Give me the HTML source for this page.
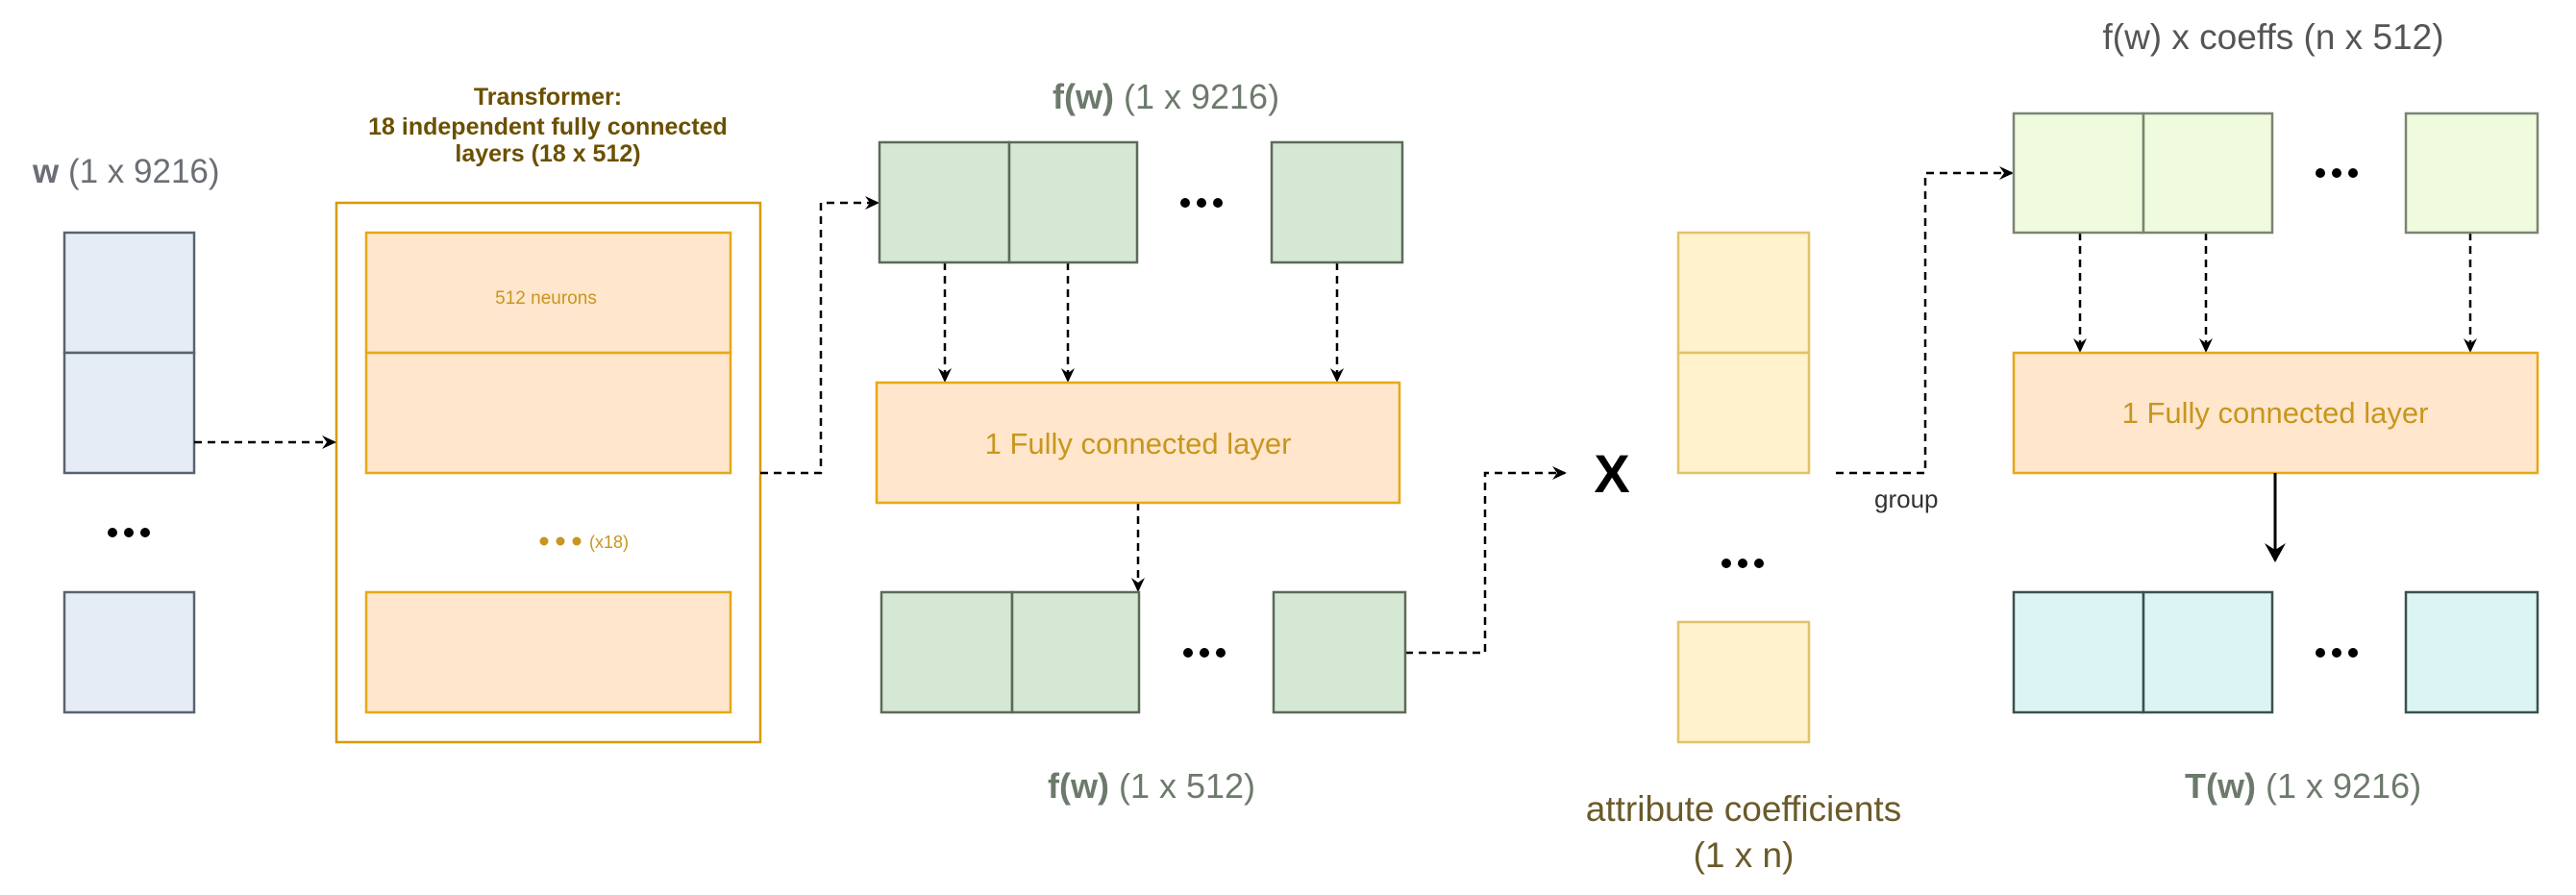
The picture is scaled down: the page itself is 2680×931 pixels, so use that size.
<!DOCTYPE html>
<html><head><meta charset="utf-8"><style>html,body{margin:0;padding:0;background:#fff;}svg{display:block;}</style></head>
<body>
<svg width="2680" height="931" viewBox="0 0 2680 931" xmlns="http://www.w3.org/2000/svg" font-family="Liberation Sans, sans-serif">
<defs>
<marker id="a" markerWidth="16" markerHeight="16" refX="13" refY="8" orient="auto" markerUnits="userSpaceOnUse"><path d="M0,1 L15,8 L0,15 L5,8 Z" fill="#000"/></marker>
<marker id="b" markerWidth="22" markerHeight="22" refX="18" refY="11" orient="auto" markerUnits="userSpaceOnUse"><path d="M0,0 L20,11 L0,22 L7,11 Z" fill="#000"/></marker>
</defs>
<rect width="2680" height="931" fill="#fff"/>

<!-- w column -->
<text x="34" y="190" font-size="35" fill="#6a6f75"><tspan font-weight="bold">w</tspan> (1 x 9216)</text>
<g fill="#e5ecf5" stroke="#5a6370" stroke-width="2.5">
<rect x="67" y="242" width="135" height="125"/><rect x="67" y="367" width="135" height="125"/><rect x="67" y="616" width="135" height="125"/>
</g>
<g fill="#000"><circle cx="117" cy="554" r="5"/><circle cx="134" cy="554" r="5"/><circle cx="151" cy="554" r="5"/></g>

<!-- Transformer -->
<g font-size="25" font-weight="bold" fill="#6b5000" text-anchor="middle">
<text x="570" y="109">Transformer:</text>
<text x="570" y="140">18 independent fully connected</text>
<text x="570" y="168">layers (18 x 512)</text>
</g>
<rect x="350" y="211" width="441" height="561" fill="#fff" stroke="#d79b00" stroke-width="2.5"/>
<g fill="#ffe6cc" stroke="#e6a817" stroke-width="2.5">
<rect x="381" y="242" width="379" height="125"/><rect x="381" y="367" width="379" height="125"/><rect x="381" y="616" width="379" height="125"/>
</g>
<text x="568" y="316" font-size="19" fill="#c8961e" text-anchor="middle">512 neurons</text>
<g fill="#c8961e"><circle cx="566" cy="563" r="4.5"/><circle cx="583" cy="563" r="4.5"/><circle cx="600" cy="563" r="4.5"/></g>
<text x="613" y="570" font-size="18" fill="#c8961e">(x18)</text>

<g fill="none" stroke="#000" stroke-width="2.5" stroke-dasharray="8,6">
<path d="M202,460 L348,460" marker-end="url(#a)"/>
<path d="M791,492 L854,492 L854,211 L913,211" marker-end="url(#a)"/>
<path d="M983,273 L983,396" marker-end="url(#a)"/>
<path d="M1111,273 L1111,396" marker-end="url(#a)"/>
<path d="M1391,273 L1391,396" marker-end="url(#a)"/>
<path d="M1184,523 L1184,614" marker-end="url(#a)"/>
<path d="M1462,679 L1545,679 L1545,492 L1628,492" marker-end="url(#a)"/>
<path d="M1910,492 L2003,492 L2003,180 L2093,180" marker-end="url(#a)"/>
<path d="M2164,242 L2164,365" marker-end="url(#a)"/>
<path d="M2295,242 L2295,365" marker-end="url(#a)"/>
<path d="M2570,242 L2570,365" marker-end="url(#a)"/>
</g>

<!-- f(w) top -->
<text x="1095" y="113" font-size="36" fill="#6c7a6c"><tspan font-weight="bold">f(w)</tspan> (1 x 9216)</text>
<g fill="#d5e8d4" stroke="#5c6b58" stroke-width="2.5">
<rect x="915" y="148" width="135" height="125"/><rect x="1050" y="148" width="133" height="125"/><rect x="1323" y="148" width="136" height="125"/>
<rect x="917" y="616" width="136" height="125"/><rect x="1053" y="616" width="132" height="125"/><rect x="1325" y="616" width="137" height="125"/>
</g>
<g fill="#000"><circle cx="1233" cy="211" r="5"/><circle cx="1250" cy="211" r="5"/><circle cx="1267" cy="211" r="5"/>
<circle cx="1236" cy="679" r="5"/><circle cx="1253" cy="679" r="5"/><circle cx="1270" cy="679" r="5"/></g>
<rect x="912" y="398" width="544" height="125" fill="#ffe6cc" stroke="#e6a817" stroke-width="2.5"/>
<text x="1184" y="472" font-size="31" fill="#c8961e" text-anchor="middle">1 Fully connected layer</text>
<text x="1090" y="830" font-size="36" fill="#6c7a6c"><tspan font-weight="bold">f(w)</tspan> (1 x 512)</text>

<!-- X -->
<text x="1677" y="512" font-size="56" font-weight="bold" text-anchor="middle" fill="#000">X</text>

<!-- yellow -->
<g fill="#fff2cc" stroke="#e3c266" stroke-width="2.5">
<rect x="1746" y="242" width="136" height="125"/><rect x="1746" y="367" width="136" height="125"/><rect x="1746" y="647" width="136" height="125"/>
</g>
<g fill="#000"><circle cx="1796" cy="586" r="5"/><circle cx="1813" cy="586" r="5"/><circle cx="1830" cy="586" r="5"/></g>
<text x="1814" y="854" font-size="37" fill="#6b5a2a" text-anchor="middle">attribute coefficients</text>
<text x="1814" y="902" font-size="37" fill="#6b5a2a" text-anchor="middle">(1 x n)</text>
<text x="1950" y="528" font-size="26" fill="#333">group</text>

<!-- right section -->
<text x="2365" y="51" font-size="37" fill="#555" text-anchor="middle">f(w) x coeffs (n x 512)</text>
<g fill="#f0fadc" stroke="#7a8574" stroke-width="2.5">
<rect x="2095" y="118" width="135" height="124"/><rect x="2230" y="118" width="134" height="124"/><rect x="2503" y="118" width="137" height="124"/>
</g>
<g fill="#000"><circle cx="2414" cy="180" r="5"/><circle cx="2431" cy="180" r="5"/><circle cx="2448" cy="180" r="5"/>
<circle cx="2414" cy="679" r="5"/><circle cx="2431" cy="679" r="5"/><circle cx="2448" cy="679" r="5"/></g>
<rect x="2095" y="367" width="545" height="125" fill="#ffe6cc" stroke="#e6a817" stroke-width="2.5"/>
<text x="2367" y="440" font-size="31" fill="#c8961e" text-anchor="middle">1 Fully connected layer</text>
<path d="M2367,492 L2367,583" stroke="#000" stroke-width="3" fill="none" marker-end="url(#b)"/>
<g fill="#dbf5f5" stroke="#3d5050" stroke-width="2.5">
<rect x="2095" y="616" width="135" height="125"/><rect x="2230" y="616" width="134" height="125"/><rect x="2503" y="616" width="137" height="125"/>
</g>
<text x="2273" y="830" font-size="36" fill="#6c7a6c"><tspan font-weight="bold">T(w)</tspan> (1 x 9216)</text>
</svg>
</body></html>
